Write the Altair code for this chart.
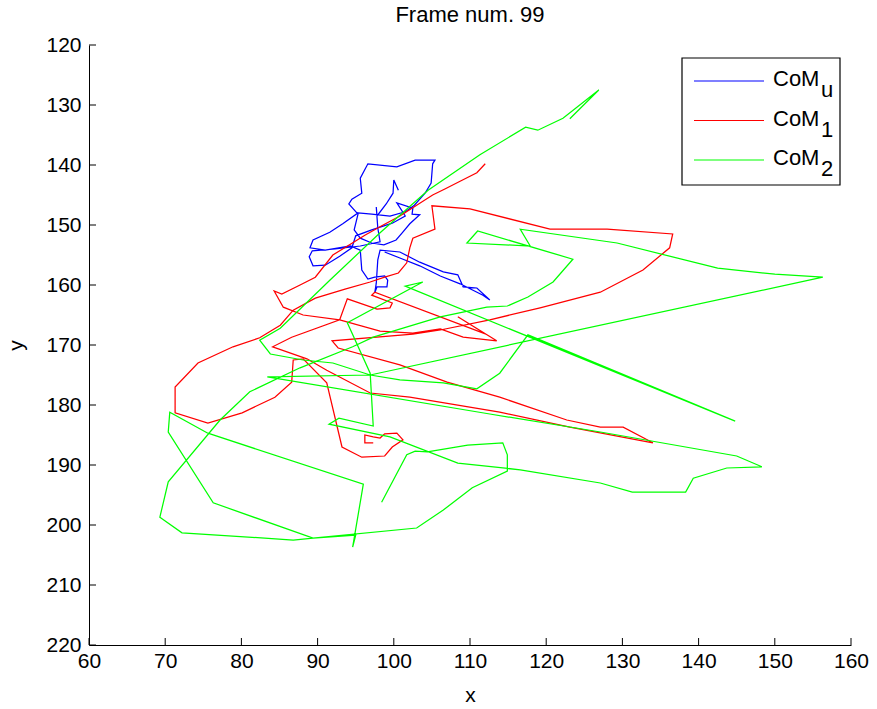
import altair as alt
import pandas as pd

# ---- trajectories (centre of mass, image coordinates) ----
blue_x = [100.6, 100.0, 99.9, 99.0, 97.8, 97.7, 97.9, 98.2, 95.6, 92.3,
          89.3, 88.9, 89.4, 91.0, 92.9, 94.5, 95.0, 97.1, 99.8, 101.5,
          100.4, 102.5, 102.4, 103.4, 102.1, 101.1, 100.3, 98.7, 97.1, 95.6,
          94.8, 95.3, 94.1, 94.5, 95.8, 95.6, 96.6, 100.4, 102.8, 105.4,
          105.1, 104.9, 104.1, 102.7, 101.5, 99.5, 97.1, 95.3, 93.3, 91.6,
          89.4, 89.0, 91.0, 94.3, 95.6, 95.8, 96.6, 97.5, 98.8, 99.2,
          99.1, 97.8, 97.5, 97.7, 97.9, 98.2, 100.8, 103.4, 106.5, 108.4,
          109.1, 110.9, 112.6, 111.7, 108.7, 106.1, 103.4, 100.8, 98.8]
blue_y = [144.2, 142.5, 144.7, 146.5, 148.5, 147.0, 150.5, 152.8, 153.5, 154.0,
          154.3, 155.3, 156.8, 156.7, 155.2, 153.8, 151.8, 150.8, 149.7, 148.5,
          146.3, 147.2, 148.2, 148.3, 149.8, 151.3, 152.5, 153.3, 153.0, 152.2,
          150.8, 148.2, 146.5, 145.7, 144.7, 142.2, 139.8, 140.3, 139.2, 139.2,
          139.8, 143.0, 144.7, 146.7, 147.8, 148.5, 148.2, 148.0, 149.8, 151.2,
          152.5, 153.8, 154.2, 153.5, 154.2, 157.5, 159.0, 158.7, 158.5, 159.2,
          160.3, 160.3, 161.3, 159.7, 155.8, 154.2, 154.5, 156.2, 157.8, 158.3,
          160.3, 160.5, 162.5, 161.7, 159.8, 158.5, 156.8, 155.5, 154.5]

red_x = [112.0, 110.9, 108.7, 106.7, 105.1, 103.0, 100.8, 98.3, 96.2, 94.3,
         92.0, 89.7, 87.7, 85.3, 84.3, 85.5, 88.1, 92.9, 98.2, 102.5,
         106.1, 109.1, 113.5, 108.4, 112.1, 97.5, 97.1, 99.8, 99.5, 97.8,
         93.9, 92.9, 86.6, 84.1, 88.6, 91.2, 96.9, 102.1, 113.9, 123.1,
         134.0, 130.1, 127.1, 122.7, 113.9, 107.0, 100.8, 92.7, 91.9, 102.5,
         106.1, 112.6, 119.2, 127.1, 132.7, 136.2, 136.6, 128.0, 120.5, 110.0,
         105.0, 105.4, 102.5, 102.1, 101.7, 100.6, 98.8, 96.9, 93.6, 89.7,
         86.8, 85.1, 82.4, 78.9, 74.3, 71.3, 71.3, 75.6, 80.1, 84.4,
         86.6, 86.8, 88.1, 91.2, 93.2, 95.8, 98.8, 99.8, 101.2, 100.4,
         98.8, 98.2, 97.3, 96.2, 96.2, 97.3]
red_y = [139.8, 141.3, 142.7, 144.0, 145.0, 146.7, 148.5, 150.2, 151.7, 153.2,
         155.0, 158.7, 160.0, 161.5, 161.0, 163.7, 165.0, 165.8, 167.7, 168.0,
         167.3, 168.7, 169.3, 165.3, 168.2, 161.2, 161.7, 163.0, 163.8, 164.0,
         162.3, 165.8, 168.7, 170.3, 172.3, 174.2, 178.0, 178.7, 181.2, 183.7,
         186.3, 183.7, 183.7, 182.5, 178.7, 176.2, 173.3, 170.5, 169.3, 168.2,
         167.5, 165.8, 163.8, 161.2, 157.5, 153.8, 151.5, 150.7, 150.7, 147.3,
         146.8, 150.7, 152.2, 153.8, 156.3, 158.0, 158.7, 159.5, 160.7, 162.2,
         164.2, 166.7, 168.8, 170.3, 173.0, 177.0, 181.3, 183.0, 181.3, 178.7,
         176.2, 172.5, 172.3, 176.3, 187.0, 188.7, 188.5, 187.0, 185.8, 184.7,
         184.8, 185.5, 185.3, 185.0, 186.3, 186.3]

green_x = [123.1, 126.9, 122.2, 118.9, 117.3, 111.3, 104.5, 98.2, 91.6, 85.1,
           82.4, 83.8, 88.1, 92.0, 96.9, 100.8, 106.5, 110.9, 113.9, 117.6,
           144.8, 101.5, 103.8, 93.9, 96.9, 97.3, 92.8, 91.5, 99.5, 108.4,
           116.6, 127.1, 131.3, 138.3, 139.3, 143.7, 148.3, 145.0, 127.1, 112.6,
           83.4, 96.9, 156.3, 150.0, 142.5, 129.3, 116.6, 117.9, 109.6, 111.0,
           123.5, 120.9, 117.6, 114.9, 112.2, 106.1, 97.3, 94.6, 87.7, 81.1,
           77.2, 70.4, 69.3, 72.2, 86.8, 89.4, 95.0, 94.6, 96.0, 75.6,
           70.6, 70.4, 76.3, 89.4, 103.0, 106.5, 110.3, 114.9, 114.9, 114.3,
           109.7, 104.4, 102.8, 101.7, 98.4]
green_y = [132.3, 127.5, 132.2, 134.2, 133.7, 138.3, 144.2, 151.3, 159.2, 167.2,
           169.2, 171.5, 172.5, 173.0, 175.0, 175.8, 176.3, 177.3, 174.7, 168.3,
           182.7, 160.2, 159.5, 166.3, 174.7, 183.5, 182.2, 183.2, 185.3, 189.7,
           190.8, 193.0, 194.5, 194.5, 192.2, 190.5, 190.3, 188.5, 184.5, 181.5,
           175.3, 175.0, 158.7, 158.2, 157.2, 153.0, 150.7, 153.5, 153.0, 151.0,
           155.7, 159.5, 162.0, 163.5, 163.7, 165.3, 168.7, 170.3, 173.8, 177.8,
           182.5, 192.8, 198.7, 201.3, 202.5, 202.2, 201.7, 203.7, 193.2, 184.7,
           181.2, 184.5, 196.3, 202.2, 200.5, 197.5, 193.8, 191.0, 188.3, 186.3,
           186.7, 187.8, 187.7, 188.3, 196.2]

series_names = ["CoM_u", "CoM_1", "CoM_2"]
series_subs = ["u", "1", "2"]
series_colors = ["#0000ff", "#ff0000", "#00ff00"]
x_ticks = [60, 70, 80, 90, 100, 110, 120, 130, 140, 150, 160]
y_ticks = [120, 130, 140, 150, 160, 170, 180, 190, 200, 210, 220]

FONT = "Liberation Sans"
W, H = 762, 600

tracks = []
for name, xs_, ys_ in zip(series_names, [blue_x, red_x, green_x], [blue_y, red_y, green_y]):
    tracks.append(pd.DataFrame({"x": xs_, "y": ys_, "i": range(len(xs_)), "series": name}))

x_scale = alt.Scale(domain=[60, 160], nice=False, zero=False)
y_scale = alt.Scale(domain=[120, 220], nice=False, zero=False, reverse=True)

x_axis = alt.Axis(values=x_ticks, title="x", ticks=False, grid=False, labelPadding=5,
                  titlePadding=13, labelFlush=False)
y_axis = alt.Axis(values=y_ticks, title="y", ticks=False, grid=False, labelPadding=8,
                  titlePadding=19, labelFlush=False)

layers = []
for k, df in enumerate(tracks):
    layers.append(
        alt.Chart(df).mark_line(strokeWidth=1.25, color=series_colors[k], clip=True)
        .encode(x=alt.X("x:Q", scale=x_scale, axis=x_axis),
                y=alt.Y("y:Q", scale=y_scale, axis=y_axis),
                order="i:Q")
    )

# inward tick marks on the two axis lines
xt = alt.Chart(pd.DataFrame({"t": x_ticks})).mark_rule(color="black", strokeWidth=1).encode(
    x=alt.X("t:Q", scale=x_scale, axis=x_axis), y=alt.value(H), y2=alt.value(H - 7))
yt = alt.Chart(pd.DataFrame({"t": y_ticks})).mark_rule(color="black", strokeWidth=1).encode(
    y=alt.Y("t:Q", scale=y_scale, axis=y_axis), x=alt.value(0), x2=alt.value(7))
layers += [xt, yt]

# legend box drawn in the upper-right corner of the plot
one = pd.DataFrame({"a": [0]})
layers.append(alt.Chart(one).mark_rect(fill="white", stroke="black", strokeWidth=1.2).encode(
    x=alt.value(593), x2=alt.value(751), y=alt.value(13), y2=alt.value(140)))
row_gap = 39.5
for k, (name, sub, col) in enumerate(zip(series_names, series_subs, series_colors)):
    ly = 36 + row_gap * k
    row = pd.DataFrame({"main": ["CoM"], "sub": [sub]})
    layers.append(alt.Chart(row).mark_rule(color=col, strokeWidth=1.2).encode(
        x=alt.value(605), x2=alt.value(675), y=alt.value(ly)))
    layers.append(alt.Chart(row).mark_text(align="left", baseline="alphabetic", font=FONT,
                                           fontSize=22, color="black").encode(
        x=alt.value(684), y=alt.value(ly + 5), text="main:N"))
    layers.append(alt.Chart(row).mark_text(align="left", baseline="alphabetic", font=FONT,
                                           fontSize=22, color="black").encode(
        x=alt.value(732), y=alt.value(ly + 16), text="sub:N"))

chart = alt.layer(*layers).properties(
    width=W, height=H,
    title=alt.Title("Frame num. 99", font=FONT, fontSize=22, fontWeight="normal",
                    color="black", anchor="middle", frame="group", offset=7),
    autosize=alt.AutoSizeParams(type="none"),
    padding={"left": 89, "top": 45, "right": 26, "bottom": 64},
).configure_view(stroke=None).configure_axis(
    domainColor="black", domainWidth=1, labelColor="black", labelFont=FONT, labelFontSize=21,
    titleFont=FONT, titleFontSize=21, titleFontWeight="normal", titleColor="black",
)

chart.save("out.html", embed_options={"renderer": "svg", "actions": False})
